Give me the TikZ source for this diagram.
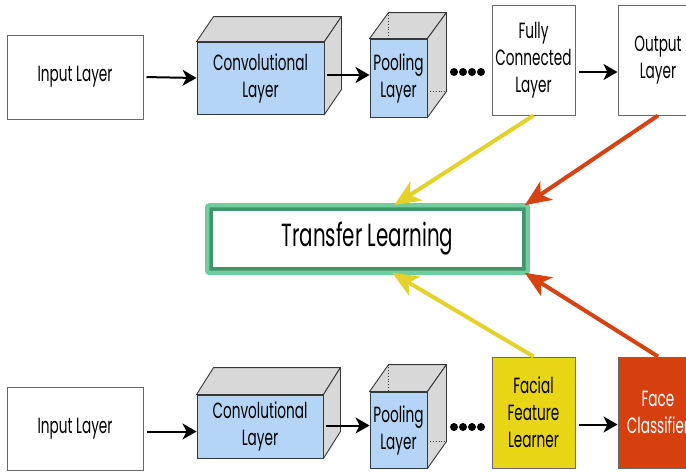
\documentclass[tikz,border=0pt]{standalone}
\usepackage{fontspec}
\setmainfont[FakeStretch=0.62]{Poppins}
\usetikzlibrary{arrows.meta,calc}

\definecolor{convblue}{RGB}{180,213,246}
\definecolor{cubegray}{RGB}{216,216,216}
\definecolor{edgegray}{RGB}{55,55,55}
\definecolor{boxgray}{RGB}{105,105,105}
\definecolor{tlgreen}{RGB}{112,206,158}
\definecolor{tldark}{RGB}{62,150,105}
\definecolor{arrowyellow}{RGB}{228,210,42}
\definecolor{arrowred}{RGB}{214,66,18}
\definecolor{fflyellow}{RGB}{232,213,22}
\definecolor{clsred}{RGB}{213,64,14}

\tikzset{
  x=1pt, y=-1pt,
  labelfont/.style={font=\fontsize{22}{27}\selectfont, align=center},
  plainbox/.style={labelfont, draw=boxgray, line width=1pt, fill=white, inner sep=0pt},
  cubefront/.style={labelfont, draw=edgegray, line width=0.9pt, fill=convblue, inner sep=0pt},
  cubeface/.style={draw=edgegray, line width=0.9pt, fill=cubegray, line join=round},
  hidden/.style={draw=edgegray, line width=0.8pt, dotted},
  flow/.style={-{Stealth[length=14pt,width=16pt,inset=4pt]}, line width=2pt, black, shorten <=3pt},
  transfer/.style={-{Stealth[length=26pt,width=22pt,inset=7pt]}, line width=4pt},
  tlbox/.style={font=\fontsize{32}{33}\selectfont, draw=tldark, line width=5.6pt, rounded corners=2pt,
    fill=white, inner sep=0pt, minimum width=315pt, minimum height=62pt},
}

% top and side faces of a box drawn in oblique projection
\newcommand\cubesides[3]{%
  \draw[cubeface] (#1.north west) -- ++(#2,#3) -- ($(#1.north east)+(#2,#3)$) -- (#1.north east) -- cycle;
  \draw[cubeface] (#1.north east) -- ++(#2,#3) -- ($(#1.south east)+(#2,#3)$) -- (#1.south east) -- cycle;
}

\begin{document}
\begin{tikzpicture}
\useasboundingbox (0,0) rectangle (686,472);
\clip (0,0) rectangle (686,472);

% ---------- source network ----------
\node[plainbox, minimum width=136pt, minimum height=84pt] (in1) at (75,77) {Input Layer};
\node[cubefront, minimum width=127pt, minimum height=72pt] (conv1) at (260.5,78) {Convolutional\\Layer};
\cubesides{conv1}{17}{-25}
\node[cubefront, minimum width=57pt, minimum height=78pt] (pool1) at (398.5,78) {Pooling\\Layer};
\cubesides{pool1}{19}{-26}
\draw[hidden] ($(pool1.north west)+(19,-26)$) -- ($(pool1.north west)+(19,0)$);
\draw[hidden] ($(pool1.south east)+(0,-26)$) -- ($(pool1.south east)+(19,-26)$);
\foreach \i in {0,1,2,3} \fill (454+9*\i,72) circle (4pt);
\node[plainbox, minimum width=83pt, minimum height=110pt] (fc1) at (533.5,60) {Fully\\Connected\\Layer};
\node[plainbox, minimum width=80pt, minimum height=110pt] (out1) at (658,60) {Output\\Layer};

\draw[flow] (in1.east) -- (conv1.west);
\draw[flow] ([yshift=3pt]conv1.east) -- ([yshift=3pt]pool1.west);
\draw[flow] ([yshift=-12pt]fc1.east) -- ([yshift=-12pt]out1.west);

% ---------- transfer ----------
\node[tlbox] (tl) at (367.5,239) {Transfer Learning};
\draw[tlgreen, line width=4.2pt, rounded corners=2pt] (tl.north west) rectangle (tl.south east);

% ---------- target network ----------
\node[plainbox, minimum width=136pt, minimum height=83pt] (in2) at (75,428.5) {Input Layer};
\node[cubefront, minimum width=126pt, minimum height=63pt] (conv2) at (260,426.5) {Convolutional\\Layer};
\cubesides{conv2}{17}{-27}
\node[cubefront, minimum width=57pt, minimum height=76pt] (pool2) at (398.5,430) {Pooling\\Layer};
\cubesides{pool2}{19}{-27}
\draw[hidden] ($(pool2.north west)+(19,-27)$) -- ($(pool2.north west)+(19,0)$);
\draw[hidden] ($(pool2.south east)+(0,-27)$) -- ($(pool2.south east)+(19,-27)$);
\foreach \i in {0,1,2,3} \fill (454+9*\i,427) circle (4pt);
\node[plainbox, fill=fflyellow, minimum width=83pt, minimum height=111pt] (ffl) at (533.5,412.5) {Facial\\Feature\\Learner};
\node[plainbox, fill=clsred, text=white, minimum width=80pt, minimum height=111pt] (cls) at (658,412.5) {Face\\Classifier};

\draw[flow] ([yshift=-3pt]in2.east) -- ([yshift=-3pt]in2.east -| conv2.west);
\draw[flow] ([yshift=1pt]conv2.east) -- ([yshift=1pt]conv2.east -| pool2.west);
\draw[flow] ([yshift=-12pt]ffl.east) -- ([yshift=-12pt]cls.west);

% ---------- knowledge transfer arrows ----------
\draw[transfer, arrowyellow] (fc1.south) -- ([xshift=187pt]tl.north west);
\draw[transfer, arrowred] (out1.south) -- ([xshift=-3pt]tl.north east);
\draw[transfer, arrowyellow] (ffl.north) -- ([xshift=185pt]tl.south west);
\draw[transfer, arrowred] (cls.north) -- ([xshift=-3pt]tl.south east);
\end{tikzpicture}
\end{document}
